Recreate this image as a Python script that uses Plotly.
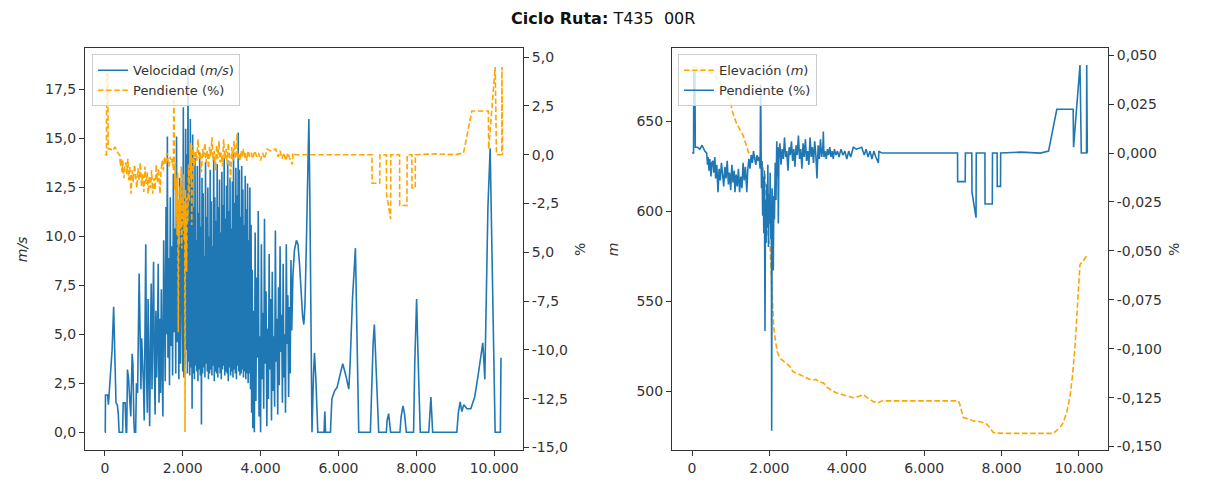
import plotly.graph_objects as go

# ---------------- data ----------------
vel_dist = [0, 10, 15, 70, 90, 120, 155, 185, 225, 255, 285, 320, 345, 365, 455, 470, 520, 545, 560, 580,
            610, 640, 665, 700, 720, 745, 760, 790, 810, 840, 880, 905, 925, 945, 965, 990, 1010,
            1030, 1050, 1070, 1090, 1110, 1130, 1150, 1170, 1190, 1210, 1230, 1250, 1270, 1290, 1310,
            1330, 1350, 1370, 1390, 1410, 1430, 1450, 1470, 1490, 1510, 1530, 1550, 1570, 1590, 1605,
            1620, 1640, 1660, 1680, 1700, 1720, 1740, 1760, 1780, 1800, 1820, 1840, 1860, 1880, 1900,
            1920, 1940, 1960, 1980,
            2000, 2015, 2030, 2045, 2060, 2075, 2090, 2105, 2120, 2135, 2150, 2165, 2180, 2195, 2210,
            2225, 2240, 2255, 2270, 2285, 2300, 2315, 2330, 2345, 2360, 2375, 2390, 2405, 2420, 2435,
            2450, 2465, 2480, 2495, 2510, 2525, 2540, 2555, 2570, 2585, 2600, 2615, 2630, 2645, 2660,
            2675, 2690, 2705, 2720, 2735, 2750, 2765, 2780, 2795, 2810, 2825, 2840, 2855, 2870, 2885,
            2900, 2915, 2930, 2945, 2960, 2975, 2990, 3005, 3020, 3035, 3050, 3065, 3080, 3095, 3110,
            3125, 3140, 3155, 3170, 3185, 3200, 3215, 3230, 3245, 3260, 3275, 3290, 3305, 3320, 3335,
            3350, 3365, 3380, 3395, 3410, 3425, 3440, 3455, 3470, 3485, 3500, 3515, 3530, 3545, 3560,
            3575, 3590, 3605, 3620, 3635, 3650, 3665, 3680, 3695,
            3710, 3725, 3740, 3755, 3770, 3785, 3800, 3820, 3840, 3860, 3880, 3900, 3920, 3940, 3960,
            3980, 4000, 4020, 4040, 4060, 4080, 4100, 4120, 4140, 4160, 4180, 4200, 4220, 4240, 4260,
            4280, 4300, 4320, 4340, 4360, 4380, 4400, 4420, 4440, 4460, 4480, 4500, 4520, 4540, 4560,
            4580, 4600, 4620, 4640, 4660, 4680, 4700, 4720, 4740, 4760, 4780, 4800, 4830, 4870, 4920,
            4960, 5000, 5040, 5080, 5110, 5140, 5180, 5215, 5240, 5265, 5290, 5320,
            5360, 5384, 5420, 5450, 5469, 5630, 5650, 5670, 5795, 5830, 5900, 5966, 6040, 6110, 6190,
            6265, 6300, 6360, 6436, 6480, 6521, 6820, 6850, 6890, 6922, 6960, 7000, 7034, 7230, 7250,
            7290, 7320, 7340, 7580, 7610, 7658, 7700, 7743, 7930, 7960, 8008, 8050, 8102, 8320, 8345,
            8375, 8400, 8420, 9042, 9080, 9127, 9170, 9220, 9300, 9400, 9500, 9580, 9640, 9708, 9740,
            9760, 9790, 9840, 9897, 9940, 9980, 10025, 10160, 10175]

vel_speed = [0, 0, 1.9, 1.9, 1.4, 2.5, 3.8, 4.2, 6.4, 3.5, 1.5, 1.4, 0.9, 0, 0, 1.5, 1.5, 0, 0, 3.2,
             2.7, 1.6, 0.8, 4.0, 3.5, 0.5, 0, 0, 2.5, 2.0, 8.1, 5.0, 2.2, 4.8, 3.9, 2.5, 0.6,
             5.2, 9.6, 3.0, 1.0, 6.8, 2.5, 0.3, 4.5, 7.6, 2.2, 5.5, 8.7, 3.4, 0.9, 6.2,
             2.8, 4.9, 8.6, 1.5, 5.8, 2.0, 7.3, 3.6, 0.8, 9.8, 4.2, 2.6, 11.5, 5.0, 15.1,
             3.8, 8.9, 2.4, 12.0, 4.4, 9.5, 2.9, 13.2, 5.1, 10.4, 3.0, 15.1, 4.6, 11.8, 2.7,
             13.0, 3.5, 12.6, 4.0,
             3.1, 16.6, 2.8, 12.0, 3.5, 15.5, 4.2, 14.2, 3.0, 18.7, 3.6, 13.5, 2.9, 16.0, 3.3,
             12.8, 1.2, 15.2, 3.0, 11.5, 2.7, 14.0, 3.4, 9.8, 3.1, 13.6, 2.6, 11.2, 3.2, 14.3,
             2.9, 10.5, 0.4, 13.0, 3.0, 12.2, 3.3, 9.0, 2.8, 13.8, 3.5, 11.0, 3.1, 12.5, 2.7,
             10.0, 3.0, 13.4, 3.2, 11.8, 2.9, 9.5, 3.4, 14.1, 2.6, 12.0, 3.1, 10.8, 3.0, 13.7,
             2.8, 11.5, 3.3, 12.9, 3.0, 10.2, 2.7, 13.3, 3.2, 11.6, 3.4, 14.0, 2.9, 10.9, 3.1,
             12.6, 3.0, 13.9, 2.6, 11.3, 3.3, 13.0, 2.9, 10.4, 3.1, 12.8, 2.8, 14.2, 3.2, 11.7,
             3.0, 13.5, 2.7, 12.1, 3.4, 15.3, 3.1, 13.4, 2.9, 11.0, 3.0, 13.6, 3.2, 12.4, 2.8,
             10.6, 3.1, 13.1, 2.7, 11.4, 3.0, 12.7, 2.5, 9.8,
             3.0, 12.5, 2.2, 10.6, 1.0, 8.3, 0.2, 6.2, 0.0, 10.2, 1.6, 7.9, 3.8, 11.3, 0.8,
             4.9, 0.0, 9.6, 2.7, 6.1, 1.2, 10.9, 3.5, 7.2, 0.3, 5.3, 1.7, 9.1, 3.2, 6.8,
             0.6, 8.2, 2.1, 4.9, 1.3, 10.3, 3.6, 5.8, 0.9, 7.4, 2.4, 9.5, 4.1, 6.0, 1.5,
             8.6, 2.8, 5.0, 1.0, 9.6, 4.5, 7.0, 1.8, 6.4, 3.0, 8.8, 5.2, 8.0, 9.3, 9.8,
             9.6, 8.6, 7.0, 5.9, 5.5, 6.5, 10.0, 14.5, 16.0, 12.0, 5.0, 0.0,
             3.0, 4.05, 2.7, 1.0, 0, 0, 1.05, 0, 0, 1.7, 2.1, 2.3, 3.0, 3.5, 2.9,
             2.2, 3.5, 6.8, 9.4, 5.0, 0, 0, 2.0, 4.5, 5.5, 3.5, 1.0, 0, 0, 0.6,
             0.95, 0.5, 0, 0, 0.8, 1.35, 0.9, 0, 0, 3.5, 6.8, 3.5, 0, 0, 1.0,
             1.8, 0.8, 0, 0, 1.0, 1.55, 1.05, 1.4, 1.2, 1.2, 1.8, 2.8, 3.6, 4.56, 3.5,
             2.7, 6.0, 11.5, 14.5, 10.0, 4.0, 0, 0, 3.8]

pen_dist = [0, 40, 45, 60, 75, 85, 140, 200, 260, 330, 380, 400, 420, 440, 460, 490, 510, 540, 560, 590,
            610, 640, 672, 700, 730, 760, 790, 820, 850, 880, 910, 940, 970, 1000, 1030, 1060, 1090,
            1110, 1140, 1170, 1200, 1230, 1260, 1290, 1320, 1350, 1380, 1416, 1440, 1470, 1500, 1530,
            1560, 1590, 1620, 1650, 1680, 1710, 1740, 1760, 1772, 1780, 1795, 1810, 1825, 1840, 1855,
            1870, 1886, 1900, 1915, 1930, 1945, 1960, 1975, 1990, 2005, 2020, 2035, 2050, 2059, 2070,
            2085, 2100, 2115, 2130, 2150, 2170, 2190, 2205, 2220, 2231, 2245, 2270, 2300, 2330, 2360,
            2390, 2420, 2450, 2480, 2510, 2540, 2570, 2600, 2630, 2660, 2690, 2720, 2750, 2780, 2810,
            2840, 2870, 2900, 2930, 2960, 2990, 3020, 3050, 3080, 3110, 3140, 3170, 3200, 3230, 3260,
            3290, 3320, 3350, 3380, 3394, 3410, 3440, 3470,
            3500, 3530, 3560, 3590, 3620, 3650, 3680, 3720, 3760, 3800, 3850, 3900, 3950, 4000, 4050,
            4100, 4169, 4250, 4385, 4450, 4500, 4550, 4600, 4650, 4700, 4750, 4816, 4830, 4900, 6862,
            6865, 7060, 7065, 7230, 7235, 7340, 7345, 7570, 7573, 7760, 7765, 7885, 7888, 7973, 7976,
            8500, 9000, 9214, 9427, 9850, 9860, 10026, 10060, 10195, 10200, 10215]

pen_pct = [0, 0, 4.2, 3.9, 4.2, 0.3, 0.3, 0.2, 0.4, 0.1, 0, -0.6, -0.2, -0.9, -0.3, -1.2, -0.5, -0.4, -1.0, -0.2,
           -1.3, -0.6, -2.0, -0.8, -1.4, -0.5, -1.1, -1.7, -0.7, -1.3, -0.4, -1.6, -1.0, -1.9, -0.6, -1.5, -0.9,
           -2.0, -1.1, -1.7, -0.8, -2.0, -1.2, -1.8, -0.5, -1.4, -0.7, -2.0, -0.9, -0.3, -0.8, -0.1,
           -0.5, 0.1, -0.3, -0.6, -0.1, -0.4, -0.2, -0.8, 3.5, -0.3, -1.8, -0.4, -3.2, -1.2, -4.1,
           -0.9, -9.1, -2.4, -4.6, -1.6, -3.8, -0.6, -4.8, -2.1, -3.6, -1.0, -4.4, -2.6, -14.2, -1.8,
           -4.0, -6.0, -2.2, -3.4, -0.5, -2.4, 0.6, -1.2, 0.3, -3.6, -0.2, 0.5, -0.6, 0.2, -0.3,
           0.8, -0.2, 0.1, -0.9, 0.3, -0.1, 0.6, -0.4, 0.2, -0.7, 0.4, -0.1, 0.9, -0.3, 0.2,
           -0.8, 0.5, -0.2, 0.7, -0.4, 0.1, -0.6, 0.8, -0.2, 0.3, -0.5, 0.6, -0.1, -1.3, 0.4,
           -0.3, 0.7, -0.2, 0.2, 1.1, -0.2, 0.1, -0.3,
           0.2, -0.1, 0.3, -0.2, 0.1, -0.3, 0.2, -0.1, 0.1, -0.2, 0.2, -0.1, 0.1, -0.3, 0.1,
           -0.2, 0.3, 0.2, 0.3, -0.1, 0.2, -0.2, 0.1, -0.3, 0.1, -0.2, -0.5, 0.1, 0, 0,
           -1.46, -1.46, 0, 0, -2.0, -3.3, 0, 0, -2.6, -2.6, 0, 0, -1.7, -1.7, 0,
           0.05, 0, 0.1, 2.24, 2.24, 0.3, 4.5, 0, 0, 4.5, 0]

elev_dist = [0, 150, 300, 450, 600, 750, 880, 982, 1051, 1150, 1250, 1326, 1400, 1456, 1550, 1650, 1757,
             1820, 1886, 1920, 1946, 1980, 2015, 2050, 2084, 2110, 2145, 2200, 2274, 2400, 2532, 2600,
             2700, 2800, 2877, 3000, 3100, 3200, 3300, 3394, 3500, 3600, 3738, 3900, 4050, 4169, 4300,
             4428, 4550, 4700, 4816, 4900, 5031, 6000, 6883, 6930, 6980, 7012, 7150, 7270, 7450, 7614,
             7700, 7786, 7900, 8045, 9337, 9450, 9520, 9595, 9680, 9768, 9830, 9897, 9960, 10000,
             10026, 10112, 10215]
elev_m = [680, 680, 679.5, 678, 675.5, 671, 666, 662, 655, 649, 645, 642, 637, 633, 631, 629.5, 628,
          625, 620, 605, 591, 585, 581.5, 565, 543, 536, 530, 522, 518.3, 516, 513.7, 511,
          510, 509, 508, 507, 506, 506.5, 505, 504.6, 502, 500.5, 499, 498, 497, 496.3, 497,
          498, 496, 494, 493.6, 494.5, 494.6, 494.6, 494.6, 492, 487, 485.3, 484.5, 483.4, 483, 481.7,
          479.5, 477, 476.6, 476.5, 476.5, 478.5, 480, 482.6, 488, 497, 508, 524.7, 545, 562,
          570.5, 572.5, 576]

# right-hand chart shows the same slope as a fraction
pen_frac = [p / 100 for p in pen_pct]

x_tickvals = [0, 2000, 4000, 6000, 8000, 10000]
x_ticktext = ["0", "2.000", "4.000", "6.000", "8.000", "10.000"]
vel_tickvals = [0, 2.5, 5, 7.5, 10, 12.5, 15, 17.5]
vel_ticktext = ["0,0", "2,5", "5,0", "7,5", "10,0", "12,5", "15,0", "17,5"]
pen_tickvals = [5, 2.5, 0, -2.5, -5, -7.5, -10, -12.5, -15]
pen_ticktext = ["5,0", "2,5", "0,0", "-2,5", "5,0", "-7,5", "-10,0", "-12,5", "-15,0"]
elev_tickvals = [500, 550, 600, 650]
elev_ticktext = ["500", "550", "600", "650"]
frac_tickvals = [0.05, 0.025, 0, -0.025, -0.05, -0.075, -0.1, -0.125, -0.15]
frac_ticktext = ["0,050", "0,025", "0,000", "-0,025", "-0,050", "-0,075", "-0,100", "-0,125", "-0,150"]

BLUE = "#1f77b4"
ORANGE = "#ffa500"
AXC = "#333333"
DASH = "5.5px,2.6px"

fig = go.Figure()
fig.add_trace(go.Scatter(x=vel_dist, y=vel_speed, mode="lines", name="Velocidad (<i>m/s</i>)",
                         line=dict(color=BLUE, width=1.6), xaxis="x", yaxis="y", legend="legend"))
fig.add_trace(go.Scatter(x=pen_dist, y=pen_pct, mode="lines", name="Pendiente (%)",
                         line=dict(color=ORANGE, width=1.6, dash=DASH), xaxis="x", yaxis="y2", legend="legend"))
fig.add_trace(go.Scatter(x=elev_dist, y=elev_m, mode="lines", name="Elevación (<i>m</i>)",
                         line=dict(color=ORANGE, width=1.6, dash=DASH), xaxis="x2", yaxis="y3", legend="legend2"))
fig.add_trace(go.Scatter(x=pen_dist, y=pen_frac, mode="lines", name="Pendiente (%)",
                         line=dict(color=BLUE, width=1.6), xaxis="x2", yaxis="y4", legend="legend2"))

W, H = 1206, 490
L1, R1 = 85 / W, 523 / W
L2, R2 = 672 / W, 1108 / W
B, T = 1 - 455 / H, 1 - 48 / H

common = dict(showline=True, linecolor=AXC, linewidth=1, ticks="outside", ticklen=5, tickcolor=AXC,
              showgrid=False, zeroline=False, tickfont=dict(size=14, color=AXC))

fig.update_layout(
    width=W, height=H, margin=dict(l=0, r=0, t=0, b=0),
    paper_bgcolor="white", plot_bgcolor="white",
    font=dict(family="DejaVu Sans", size=14, color=AXC),
    xaxis=dict(domain=[L1, R1], range=[-511, 10741], anchor="y", mirror=True,
               tickvals=x_tickvals, ticktext=x_ticktext, **common),
    yaxis=dict(domain=[B, T], range=[-0.93, 19.6], anchor="x",
               tickvals=vel_tickvals, ticktext=vel_ticktext,
               title=dict(text="<i>m/s</i>", standoff=14, font=dict(size=14)), **common),
    yaxis2=dict(range=[-15.15, 5.45], overlaying="y", side="right", anchor="x",
                tickvals=pen_tickvals, ticktext=pen_ticktext,
                title=dict(text="%", standoff=8, font=dict(size=14)), **common),
    xaxis2=dict(domain=[L2, R2], range=[-517, 10750], anchor="y3", mirror=True,
                tickvals=x_tickvals, ticktext=x_ticktext, **common),
    yaxis3=dict(domain=[B, T], range=[467, 690.7], anchor="x2",
                tickvals=elev_tickvals, ticktext=elev_ticktext,
                title=dict(text="<i>m</i>", standoff=14, font=dict(size=14)), **common),
    yaxis4=dict(range=[-0.152, 0.0535], overlaying="y3", side="right", anchor="x2",
                tickvals=frac_tickvals, ticktext=frac_ticktext,
                title=dict(text="%", standoff=8, font=dict(size=14)), **common),
    legend=dict(x=92 / W, y=1 - 54 / H, xanchor="left", yanchor="top",
                bgcolor="rgba(255,255,255,0.8)", bordercolor="#cccccc", borderwidth=1,
                font=dict(size=13, color=AXC), tracegroupgap=0, itemwidth=30),
    legend2=dict(x=678 / W, y=1 - 54 / H, xanchor="left", yanchor="top",
                 bgcolor="rgba(255,255,255,0.8)", bordercolor="#cccccc", borderwidth=1,
                 font=dict(size=13, color=AXC), tracegroupgap=0, itemwidth=30),
    annotations=[dict(text="<b>Ciclo Ruta:</b> T435  00R", x=0.5, y=1 - 18 / H,
                      xref="paper", yref="paper", showarrow=False,
                      font=dict(size=16, color="#111111"), xanchor="center", yanchor="middle")],
    showlegend=True,
)

fig.write_html("out.html")
